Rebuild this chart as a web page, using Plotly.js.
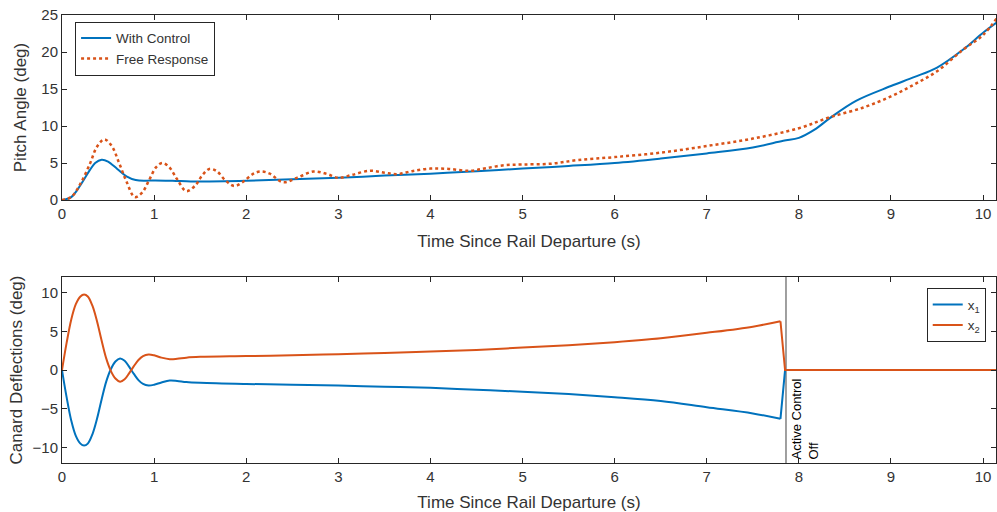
<!DOCTYPE html>
<html>
<head>
<meta charset="utf-8">
<script src="https://cdn.plot.ly/plotly-3.0.1.min.js"></script>
<style>html,body{margin:0;padding:0;background:#fff;}#chart{width:997px;height:512px;}</style>
</head>
<body>
<div id="chart"></div>
<script>
// Top plot: pitch angle
const tCtrl = [0,0.1,0.2,0.3,0.36,0.43,0.5,0.6,0.7,0.8,0.9,1.0,1.2,1.4,1.6,2.0,2.5,3.0,3.5,4.0,4.5,5.0,5.5,6.0,6.5,7.0,7.5,7.83,8.0,8.17,8.34,8.62,9.0,9.25,9.5,9.78,10.0,10.15];
const withControl = [0,0.4,2.0,4.0,5.0,5.45,5.2,4.2,3.2,2.7,2.6,2.65,2.6,2.5,2.5,2.6,2.8,3.0,3.3,3.55,3.9,4.25,4.6,5.0,5.6,6.3,7.1,8.0,8.4,9.5,11.1,13.4,15.4,16.6,17.9,20.3,22.6,24.0];
const tFree = [0,0.1,0.2,0.3,0.38,0.46,0.54,0.62,0.7,0.79,0.87,0.95,1.02,1.09,1.16,1.25,1.35,1.45,1.52,1.6,1.68,1.77,1.87,1.97,2.07,2.15,2.25,2.4,2.55,2.73,2.88,3.0,3.15,3.34,3.5,3.64,3.8,4.0,4.2,4.43,4.6,4.8,5.0,5.3,5.6,6.0,6.5,7.0,7.5,8.0,8.34,8.7,9.0,9.25,9.5,9.78,10.0,10.15];
const freeResponse = [0,0.4,2.2,4.8,7.2,8.2,7.3,5.0,2.5,0.4,1.0,2.8,4.4,5.0,4.5,2.8,1.2,2.0,3.3,4.2,3.9,2.7,1.9,2.5,3.5,3.85,3.6,2.4,3.0,3.85,3.5,3.0,3.4,3.95,3.7,3.5,3.9,4.25,4.2,3.95,4.3,4.7,4.8,4.9,5.4,5.8,6.4,7.3,8.3,9.7,11.2,12.5,14.0,15.6,17.4,20.3,22.3,24.6];

// Bottom plot: canard deflections while active control is on (smooth part)
const tActive = [0,0.05,0.1,0.15,0.2,0.24,0.28,0.33,0.38,0.43,0.48,0.53,0.58,0.63,0.68,0.73,0.78,0.83,0.88,0.94,1.0,1.08,1.17,1.25,1.35,1.5,2.0,2.5,3.0,3.5,4.0,4.5,5.0,5.5,6.0,6.5,7.0,7.5,7.8];
const x1Active = [0,-3.5,-6.5,-8.5,-9.5,-9.75,-9.5,-8.3,-6.3,-3.8,-1.5,0.1,1.1,1.5,1.2,0.4,-0.5,-1.3,-1.8,-2.0,-1.9,-1.6,-1.35,-1.4,-1.55,-1.65,-1.8,-1.9,-2.0,-2.15,-2.3,-2.55,-2.8,-3.1,-3.5,-4.0,-4.8,-5.6,-6.3];
const x2Active = [0,3.5,6.5,8.5,9.5,9.75,9.5,8.3,6.3,3.8,1.5,-0.1,-1.1,-1.5,-1.2,-0.4,0.5,1.3,1.8,2.0,1.9,1.6,1.4,1.45,1.6,1.7,1.8,1.9,2.05,2.2,2.4,2.6,2.9,3.2,3.6,4.1,4.8,5.6,6.3];
// After active control is switched off
const tOff = [7.8,7.85,8.0,9.0,10.0,10.15];
const x1Off = [-6.3,0,0,0,0,0];
const x2Off = [6.3,0,0,0,0,0];
const controlOffTime = 7.86;
const controlOffLabel = "Active Control<br>Off";

const blue = '#0072BD', orange = '#D95319';
const axCol = '#262626';
const txtCol = '#333333';
const fontFam = 'Liberation Sans, Arial, sans-serif';

const traces = [
  {x: tCtrl, y: withControl, name: 'With Control', type: 'scatter', mode: 'lines',
   line: {color: blue, width: 2, shape: 'spline'}, xaxis: 'x', yaxis: 'y', legend: 'legend'},
  {x: tFree, y: freeResponse, name: 'Free Response', type: 'scatter', mode: 'lines',
   line: {color: orange, width: 2.5, dash: 'dot', shape: 'spline'}, xaxis: 'x', yaxis: 'y', legend: 'legend'},
  {x: [controlOffTime, controlOffTime], y: [-12, 12], type: 'scatter', mode: 'lines',
   line: {color: '#808080', width: 1.5}, xaxis: 'x2', yaxis: 'y2', showlegend: false, hoverinfo: 'skip'},
  {x: tActive, y: x1Active, name: 'x<sub>1</sub>', type: 'scatter', mode: 'lines', legendgroup: 'x1',
   line: {color: blue, width: 2, shape: 'spline'}, xaxis: 'x2', yaxis: 'y2', legend: 'legend2'},
  {x: tActive, y: x2Active, name: 'x<sub>2</sub>', type: 'scatter', mode: 'lines', legendgroup: 'x2',
   line: {color: orange, width: 2, shape: 'spline'}, xaxis: 'x2', yaxis: 'y2', legend: 'legend2'},
  {x: tOff, y: x1Off, name: 'x<sub>1</sub>', type: 'scatter', mode: 'lines', legendgroup: 'x1', showlegend: false,
   line: {color: blue, width: 2}, xaxis: 'x2', yaxis: 'y2', legend: 'legend2'},
  {x: tOff, y: x2Off, name: 'x<sub>2</sub>', type: 'scatter', mode: 'lines', legendgroup: 'x2', showlegend: false,
   line: {color: orange, width: 2}, xaxis: 'x2', yaxis: 'y2', legend: 'legend2'}
];

const xCommon = {
  range: [0, 10.14], tickvals: [0,1,2,3,4,5,6,7,8,9,10], ticks: 'inside', ticklen: 5,
  showline: true, linecolor: axCol, linewidth: 1, mirror: 'ticks', tickcolor: axCol,
  showgrid: false, zeroline: false, tickfont: {size: 15, color: txtCol, family: fontFam},
  title: {text: 'Time Since Rail Departure (s)', font: {size: 17, color: txtCol, family: fontFam}, standoff: 14}
};
const yCommon = {
  ticks: 'inside', ticklen: 5, showline: true, linecolor: axCol, linewidth: 1, mirror: 'ticks',
  tickcolor: axCol, showgrid: false, zeroline: false, tickfont: {size: 15, color: txtCol, family: fontFam}
};

const layout = {
  width: 997, height: 512,
  margin: {l: 62, r: 1, t: 15, b: 49},
  paper_bgcolor: '#fff', plot_bgcolor: '#fff',
  font: {family: fontFam, color: txtCol},
  xaxis: Object.assign({}, xCommon, {anchor: 'y'}),
  yaxis: Object.assign({}, yCommon, {domain: [0.587, 1], range: [0, 25], tickvals: [0,5,10,15,20,25], anchor: 'x',
    title: {text: 'Pitch Angle (deg)', font: {size: 17, color: txtCol, family: fontFam}, standoff: 10}}),
  xaxis2: Object.assign({}, xCommon, {anchor: 'y2'}),
  yaxis2: Object.assign({}, yCommon, {domain: [0, 0.415], range: [-12, 12], tickvals: [-10,-5,0,5,10], anchor: 'x2',
    title: {text: 'Canard Deflections (deg)', font: {size: 17, color: txtCol, family: fontFam}, standoff: 5}}),
  legend: {x: 0.014, y: 0.985, xanchor: 'left', yanchor: 'top', bgcolor: '#fff', bordercolor: axCol, borderwidth: 1,
    font: {size: 13.5, color: txtCol, family: fontFam}, tracegroupgap: 0},
  legend2: {x: 0.989, y: 0.39, xanchor: 'right', yanchor: 'top', bgcolor: '#fff', bordercolor: axCol, borderwidth: 1,
    font: {size: 13.5, color: txtCol, family: fontFam}, tracegroupgap: 0},
  annotations: [{
    x: controlOffTime, y: -12, xref: 'x2', yref: 'y2', text: controlOffLabel, textangle: -90,
    xanchor: 'left', yanchor: 'bottom', align: 'left', showarrow: false, xshift: 1, yshift: 2,
    font: {size: 13, color: '#000', family: fontFam}
  }],
  showlegend: true
};

Plotly.newPlot('chart', traces, layout, {displayModeBar: false, staticPlot: true});
</script>
</body>
</html>
